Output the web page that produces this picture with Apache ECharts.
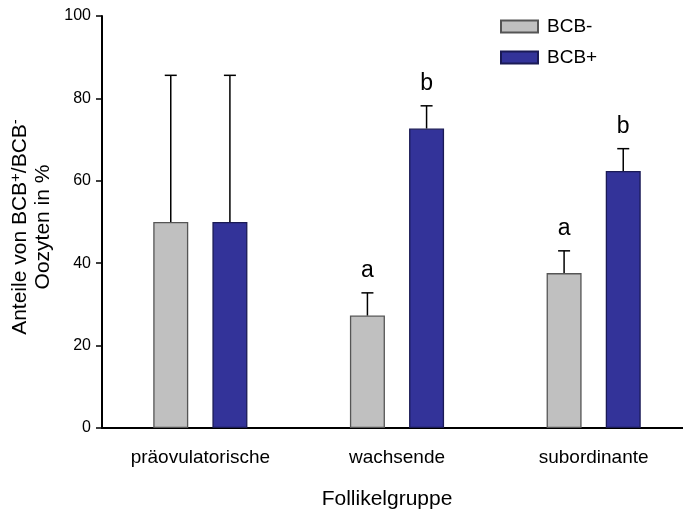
<!DOCTYPE html>
<html>
<head>
<meta charset="utf-8">
<script src="https://cdn.jsdelivr.net/npm/echarts@6/dist/echarts.min.js"></script>
<style>
  html, body { margin: 0; padding: 0; background: #fff; }
  #chart { width: 683px; height: 513px; }
</style>
</head>
<body>
<div id="chart"></div>
<script>
// Follicle groups and the share of BCB- / BCB+ oocytes (mean, SEM)
const categories = ['präovulatorische', 'wachsende', 'subordinante'];
const bcbMinus = [50, 27.3, 37.6];
const bcbPlus = [50, 72.7, 62.4];
const semMinus = [35.6, 5.5, 5.4];
const semPlus = [35.6, 5.5, 5.4];
const lettersMinus = ['', 'a', 'a'];
const lettersPlus = ['', 'b', 'b'];
const yTicks = [0, 20, 40, 60, 80, 100];

const FONT = 'Liberation Sans, Arial, sans-serif';
const BAR_W = 35;
const BAR_GAP = 0.69;
const HALF_STEP = (BAR_W + BAR_W * BAR_GAP) / 2;

function errorSeries(name, values, sems, letters, side) {
  return {
    name: name,
    type: 'custom',
    z: 5,
    silent: true,
    clip: false,
    data: values.map((v, i) => [i, v, sems[i]]),
    renderItem: function (params, api) {
      const i = api.value(0);
      const v = api.value(1);
      const e = api.value(2);
      const base = api.coord([i, v]);
      const top = api.coord([i, v + e]);
      const x = base[0] + side * HALF_STEP;
      const children = [
        { type: 'line', shape: { x1: x, y1: base[1], x2: x, y2: top[1] },
          style: { stroke: '#000', lineWidth: 1.5 } },
        { type: 'line', shape: { x1: x - 6, y1: top[1], x2: x + 6, y2: top[1] },
          style: { stroke: '#000', lineWidth: 1.5 } }
      ];
      const letter = letters[params.dataIndex];
      if (letter) {
        children.push({
          type: 'text',
          style: { text: letter, x: x, y: top[1] - 22, align: 'center', verticalAlign: 'middle',
                   fontFamily: FONT, fontSize: 23, fill: '#000' }
        });
      }
      return { type: 'group', children: children };
    }
  };
}

const chart = echarts.init(document.getElementById('chart'), null, { renderer: 'canvas' });
chart.setOption({
  animation: false,
  backgroundColor: '#fff',
  textStyle: { fontFamily: FONT },
  legend: {
    data: ['BCB-', 'BCB+'],
    orient: 'vertical',
    left: 500,
    top: 17,
    padding: 0,
    itemWidth: 37,
    itemHeight: 12,
    itemGap: 12,
    icon: 'rect',
    textStyle: { fontFamily: FONT, fontSize: 19, color: '#000', padding: [0, 0, 0, 4] }
  },
  // the x axis runs on past the right edge of the canvas
  grid: { left: 102, top: 16, width: 590, height: 412, containLabel: false, outerBoundsMode: 'none' },
  xAxis: {
    type: 'category',
    data: categories,
    axisLine: { lineStyle: { color: '#000', width: 2 } },
    axisTick: { alignWithLabel: true, length: 5, lineStyle: { color: '#000', width: 1.5 } },
    axisLabel: { color: '#000', fontFamily: FONT, fontSize: 19, margin: 20 },
    name: 'Follikelgruppe',
    nameLocation: 'middle',
    nameGap: 61,
    nameTextStyle: { color: '#000', fontFamily: FONT, fontSize: 21, padding: [0, 20, 0, 0] }
  },
  yAxis: {
    type: 'value',
    min: yTicks[0],
    max: yTicks[yTicks.length - 1],
    interval: 20,
    axisLine: { show: true, lineStyle: { color: '#000', width: 2 } },
    axisTick: { show: true, length: 6, lineStyle: { color: '#000', width: 1.5 } },
    axisLabel: { color: '#000', fontFamily: FONT, fontSize: 16, margin: 11 },
    splitLine: { show: false },
    name: '{n|Anteile von BCB}{sup|+}{n|/BCB}{sup|-}\n{n|Oozyten in %}',
    nameLocation: 'middle',
    nameRotate: 90,
    nameGap: 43,
    nameTextStyle: {
      color: '#000',
      fontFamily: FONT,
      fontSize: 21,
      padding: [0, 10, 0, 0],
      rich: {
        n: { fontFamily: FONT, fontSize: 21, lineHeight: 23, color: '#000' },
        sup: { fontFamily: FONT, fontSize: 15, lineHeight: 14, verticalAlign: 'top', color: '#000' }
      }
    }
  },
  series: [
    {
      name: 'BCB-',
      type: 'bar',
      data: bcbMinus,
      barWidth: BAR_W,
      barGap: (BAR_GAP * 100) + '%',
      itemStyle: { color: '#c0c0c0', borderColor: '#555555', borderWidth: 1.3 }
    },
    {
      name: 'BCB+',
      type: 'bar',
      data: bcbPlus,
      barWidth: BAR_W,
      barGap: (BAR_GAP * 100) + '%',
      itemStyle: { color: '#333399', borderColor: '#1a1a55', borderWidth: 1.3 }
    },
    errorSeries('BCB- SEM', bcbMinus, semMinus, lettersMinus, -1),
    errorSeries('BCB+ SEM', bcbPlus, semPlus, lettersPlus, 1)
  ]
});
</script>
</body>
</html>
